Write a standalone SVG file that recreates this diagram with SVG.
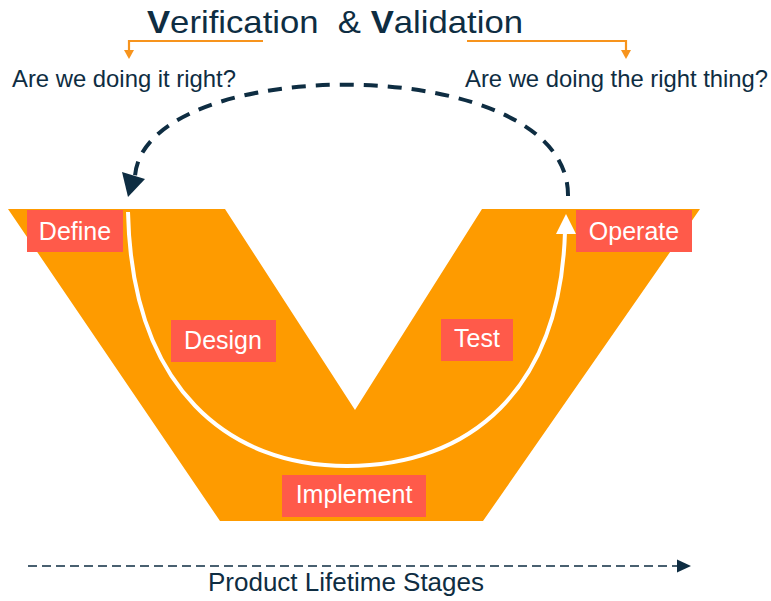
<svg xmlns="http://www.w3.org/2000/svg" width="771" height="601" viewBox="0 0 771 601">
<style>
.t{font-family:"Liberation Sans",Arial,sans-serif;fill:#0E2D42}
.lbl{font-family:"Liberation Sans",Arial,sans-serif;fill:#fff;font-size:25px;text-anchor:middle}
.box{fill:#FF5A4A}
.br{fill:none;stroke:#F7941D;stroke-width:2.2}
</style>
<rect width="771" height="601" fill="#fff"/>
<g id="v-shape">
<polygon points="8,209 225,209 355,410 482,209 700,209 483,521 220,521" fill="#FE9B00"/>
</g>
<g id="connectors">
<path d="M128,212 C132,390 230,466 347,466 C470,466 560,390 565,232" fill="none" stroke="#fff" stroke-width="4"/>
<polygon points="566,214 556,234 576,234" fill="#fff"/>
<path d="M568,196 C570,50 145,52 135,176" fill="none" stroke="#0E2D42" stroke-width="4" stroke-dasharray="14 10"/>
<polygon points="128,197 122,172 145,179" fill="#0E2D42"/>
<line x1="28" y1="566" x2="678" y2="566" stroke="#0E2D42" stroke-width="1.6" stroke-dasharray="9 5"/>
<polygon points="691,566 677,559.5 677,572.5" fill="#0E2D42"/>
<polyline class="br" points="263,41 129,41 129,52"/>
<polygon points="124,50 134,50 129,59" fill="#F7941D"/>
<polyline class="br" points="467,41 626,41 626,52"/>
<polygon points="621,50 631,50 626,59" fill="#F7941D"/>
</g>
<g id="title">
<text class="t" x="147" y="33" font-size="32" xml:space="preserve" textLength="376" lengthAdjust="spacingAndGlyphs"><tspan font-weight="bold">V</tspan>erification  &amp; <tspan font-weight="bold">V</tspan>alidation</text>
</g>
<g id="verification-q">
<text class="t" x="12" y="87" font-size="24" textLength="224" lengthAdjust="spacingAndGlyphs">Are we doing it right?</text>
</g>
<g id="validation-q">
<text class="t" x="465" y="87" font-size="24" textLength="303" lengthAdjust="spacingAndGlyphs">Are we doing the right thing?</text>
</g>
<g id="define">
<rect class="box" x="27" y="210" width="96" height="42"/>
<text class="lbl" x="75" y="240">Define</text>
</g>
<g id="design">
<rect class="box" x="171" y="320" width="105" height="42"/>
<text class="lbl" x="223" y="349">Design</text>
</g>
<g id="test">
<rect class="box" x="441" y="319" width="72" height="42"/>
<text class="lbl" x="477" y="347">Test</text>
</g>
<g id="operate">
<rect class="box" x="576" y="210" width="116" height="42"/>
<text class="lbl" x="634" y="240">Operate</text>
</g>
<g id="implement">
<rect class="box" x="282" y="475" width="144" height="42"/>
<text class="lbl" x="354" y="503">Implement</text>
</g>
<g id="lifetime">
<text class="t" x="208" y="591" font-size="25" textLength="276" lengthAdjust="spacingAndGlyphs">Product Lifetime Stages</text>
</g>
</svg>
